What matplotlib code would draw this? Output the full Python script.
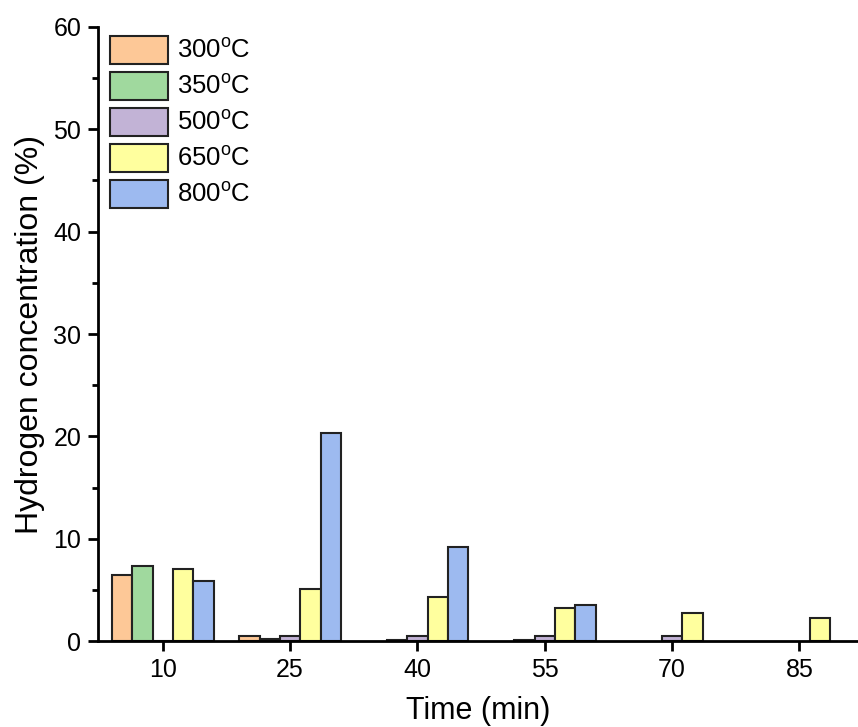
import numpy as np
import matplotlib.pyplot as plt
from matplotlib.ticker import MultipleLocator

plt.rcParams['font.family'] = ['Liberation Sans', 'DejaVu Sans']
plt.rcParams['mathtext.fontset'] = 'custom'
plt.rcParams['mathtext.rm'] = 'Liberation Sans'

times = ["10", "25", "40", "55", "70", "85"]
labels = ["300$^\\mathregular{o}$C", "350$^\\mathregular{o}$C", "500$^\\mathregular{o}$C",
          "650$^\\mathregular{o}$C", "800$^\\mathregular{o}$C"]
colors = ["#FDC897", "#A0D99E", "#C2B3D6", "#FFFF9E", "#9DBAF0"]

nan = np.nan
h300 = [6.45, 0.5, nan, nan, nan, nan]
h350 = [7.3, 0.2, 0.1, 0.1, nan, nan]
h500 = [0.05, 0.55, 0.55, 0.55, 0.55, nan]
h650 = [7.05, 5.1, 4.3, 3.25, 2.8, 2.25]
h800 = [5.85, 20.3, 9.2, 3.55, nan, nan]
series = [h300, h350, h500, h650, h800]

fig = plt.figure(figsize=(8.58, 7.27), dpi=100)
ax = fig.add_axes([0.114, 0.118, 0.886, 0.845])

x = np.arange(len(times))
w = 0.16
for i, (vals, lab, c) in enumerate(zip(series, labels, colors)):
    ax.bar(x + (i - 2) * w, vals, width=w, color=c, edgecolor="#222222",
           linewidth=1.5, label=lab)

ax.set_xlim(-0.51, 5.46)
ax.set_ylim(0, 60)
ax.set_xticks(x)
ax.set_xticklabels(times)
ax.yaxis.set_major_locator(MultipleLocator(10))
ax.yaxis.set_minor_locator(MultipleLocator(5))
ax.spines['top'].set_visible(False)
ax.spines['right'].set_visible(False)
ax.spines['left'].set_linewidth(2)
ax.spines['bottom'].set_linewidth(2)
ax.tick_params(axis='both', which='major', direction='out', length=7, width=2,
               labelsize=18, pad=5)
ax.tick_params(axis='y', which='minor', direction='out', length=4, width=2)

ax.set_xlabel("Time (min)", fontsize=22, labelpad=10)
ax.set_ylabel("Hydrogen concentration (%)", fontsize=23, labelpad=6)

ax.legend(loc='upper left', bbox_to_anchor=(-0.008, 1.015), frameon=False, fontsize=18.5,
          handlelength=2.26, handleheight=1.3, labelspacing=0.31, handletextpad=0.35,
          borderaxespad=0.3)

fig.savefig("out.png", dpi=100)
